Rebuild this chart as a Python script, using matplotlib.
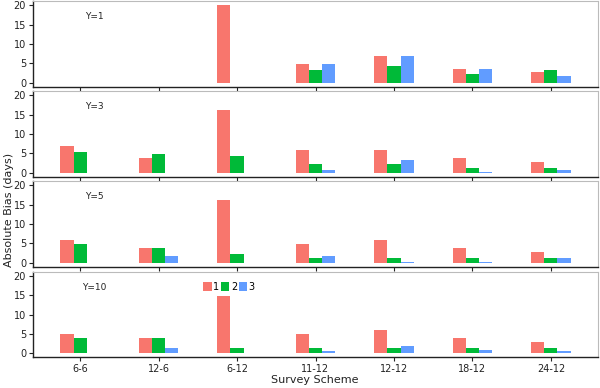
import numpy as np
import matplotlib
matplotlib.use('Agg')
import matplotlib.pyplot as plt

nan = np.nan
schemes = ['6-6', '12-6', '6-12', '11-12', '12-12', '18-12', '24-12']
panels = ['Y=1', 'Y=3', 'Y=5', 'Y=10']
groups = ['1', '2', '3']
colors = ['#F8766D', '#00BA38', '#619CFF']

# absolute bias (days), one list per group, per panel
y1_g1 = [nan, nan, 20.0, 4.8, 7.0, 3.6, 2.8]
y1_g2 = [nan, nan, nan, 3.3, 4.3, 2.3, 3.3]
y1_g3 = [nan, nan, nan, 4.8, 7.0, 3.6, 1.7]

y3_g1 = [6.9, 3.9, 16.1, 6.0, 6.0, 3.9, 2.8]
y3_g2 = [5.3, 4.9, 4.3, 2.3, 2.3, 1.2, 1.2]
y3_g3 = [nan, nan, nan, 0.7, 3.2, 0.3, 0.7]

y5_g1 = [5.9, 3.9, 16.1, 4.9, 5.9, 3.9, 2.9]
y5_g2 = [4.9, 3.9, 2.3, 1.2, 1.2, 1.2, 1.2]
y5_g3 = [nan, 1.7, nan, 1.7, 0.3, 0.3, 1.2]

y10_g1 = [5.0, 4.0, 14.7, 5.0, 6.0, 4.0, 3.0]
y10_g2 = [4.0, 4.0, 1.3, 1.3, 1.3, 1.3, 1.3]
y10_g3 = [nan, 1.3, nan, 0.6, 2.0, 1.0, 0.6]

data = [[y1_g1, y1_g2, y1_g3],
        [y3_g1, y3_g2, y3_g3],
        [y5_g1, y5_g2, y5_g3],
        [y10_g1, y10_g2, y10_g3]]

fig = plt.figure(figsize=(6, 3.88), dpi=100)
bottoms = [0.7766, 0.5446, 0.3126, 0.0791]
x = np.arange(1, len(schemes) + 1)
w = 0.5 / 3

for i, (name, series) in enumerate(zip(panels, data)):
    ax = fig.add_axes([0.055, bottoms[i], 0.9417, 0.2201])
    for j, vals in enumerate(series):
        ax.bar(x + (j - 1) * w, vals, width=w, color=colors[j],
               label=groups[j], linewidth=0)
    ax.set_xlim(0.4, 7.6)
    ax.set_ylim(-1, 21)
    ax.set_yticks([0, 5, 10, 15, 20])
    ax.set_xticks(x)
    if i == 3:
        ax.set_xticklabels(schemes)
    else:
        ax.set_xticklabels([])
    ax.tick_params(labelsize=7, length=3, width=0.8, colors='#222222', pad=2)
    for s in ['left', 'bottom']:
        ax.spines[s].set_color('#222222')
        ax.spines[s].set_linewidth(1.0)
    for s in ['top', 'right']:
        ax.spines[s].set_color('#BBBBBB')
        ax.spines[s].set_linewidth(0.8)
    ax.text(0.108, 0.82, name, transform=ax.transAxes, fontsize=6.5,
            ha='center', va='center', color='#222222')
    if i == 3:
        ax.legend(loc='upper left', bbox_to_anchor=(0.292, 0.94), ncol=3,
                  frameon=False, fontsize=7, handlelength=0.9,
                  handleheight=1.0, handletextpad=0.15,
                  columnspacing=0.15, borderpad=0)

fig.text(0.015, 0.46, 'Absolute Bias (days)', rotation=90, fontsize=8,
         ha='center', va='center', color='#222222')
fig.text(0.525, 0.02, 'Survey Scheme', fontsize=8, ha='center',
         va='center', color='#222222')

fig.savefig('out.png', dpi=100)
